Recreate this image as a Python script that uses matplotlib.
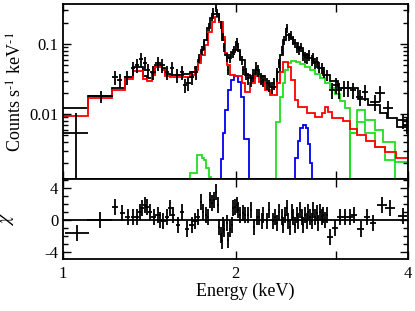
import matplotlib
matplotlib.use('Agg')
import matplotlib.pyplot as plt
import numpy as np
from matplotlib.ticker import FixedLocator, NullFormatter, NullLocator, LogLocator, MultipleLocator

plt.rcParams['font.family'] = ['Liberation Serif', 'DejaVu Serif']
plt.rcParams['mathtext.fontset'] = 'stix'

# ---------------- data ----------------
data_E = [1.053, 1.163, 1.232, 1.257, 1.293, 1.325, 1.346, 1.368, 1.390, 1.407,
          1.436, 1.465, 1.489, 1.519, 1.550, 1.582, 1.614, 1.633, 1.653, 1.679,
          1.706, 1.727, 1.748, 1.762, 1.783, 1.797, 1.819, 1.827, 1.849, 1.857,
          1.872, 1.887, 1.902, 1.910, 1.933, 1.941, 1.957, 1.980, 1.988, 2.004,
          2.012, 2.020, 2.037, 2.053, 2.061, 2.086, 2.103, 2.129, 2.146, 2.172,
          2.190, 2.216, 2.234, 2.270, 2.289, 2.316, 2.335, 2.364, 2.383, 2.412,
          2.432, 2.451, 2.461, 2.481, 2.501, 2.522, 2.542, 2.562, 2.583, 2.604,
          2.625, 2.646, 2.668, 2.689, 2.722, 2.733, 2.755, 2.777, 2.799, 2.833,
          2.856, 2.891, 2.949, 2.996, 3.032, 3.093, 3.143, 3.206, 3.297, 3.365,
          3.503, 3.573, 3.690, 3.920, 3.983]
data_dE = [0.053, 0.058,
           0.013, 0.013, 0.013, 0.013, 0.013, 0.013, 0.013, 0.013,
           0.015, 0.015, 0.015, 0.015, 0.015, 0.015, 0.015, 0.015,
           0.017, 0.017, 0.017,
           0.007, 0.007, 0.007, 0.007, 0.007, 0.007, 0.007, 0.007, 0.007, 0.007,
           0.007, 0.007, 0.007, 0.007, 0.007,
           0.008, 0.008, 0.008, 0.008, 0.008, 0.008, 0.008, 0.008, 0.008, 0.008,
           0.008, 0.008, 0.008, 0.008, 0.008, 0.008, 0.008, 0.008, 0.008,
           0.010, 0.010, 0.010, 0.010, 0.010, 0.010, 0.010, 0.010, 0.010, 0.010,
           0.010, 0.010, 0.010, 0.010, 0.010, 0.010, 0.010, 0.010, 0.010,
           0.011, 0.011, 0.011, 0.011, 0.011, 0.011, 0.011, 0.011,
           0.035, 0.035, 0.035, 0.035, 0.035, 0.035,
           0.045, 0.045,
           0.070, 0.070, 0.070, 0.070, 0.070]
data_flux = [0.0054, 0.0181, 0.0338, 0.0306, 0.0338, 0.0454, 0.0501, 0.061, 0.0535, 0.0425,
             0.0398, 0.0535, 0.0501, 0.0398, 0.0454, 0.0361, 0.0398, 0.0260, 0.0277, 0.0338,
             0.0398, 0.0631, 0.0821, 0.0968, 0.126, 0.175, 0.243, 0.286, 0.327, 0.277,
             0.243, 0.187, 0.126, 0.0906, 0.0652, 0.0425, 0.0631, 0.0743, 0.0821, 0.0968,
             0.107, 0.0906, 0.0697, 0.0591, 0.0425, 0.0385, 0.0327, 0.0306, 0.0361, 0.0454,
             0.0425, 0.0327, 0.0306, 0.0277, 0.0260, 0.0243, 0.0277, 0.0385, 0.0535, 0.0821,
             0.114, 0.148, 0.169, 0.126, 0.134, 0.114, 0.103, 0.0877, 0.0821, 0.0906,
             0.0697, 0.0652, 0.0631, 0.0697, 0.0591, 0.0631, 0.0535, 0.0553, 0.0469, 0.0454,
             0.0398, 0.0361, 0.0220, 0.0260, 0.0220, 0.0235, 0.0235, 0.0220, 0.0175, 0.0206,
             0.0148, 0.0200, 0.0122, 0.0082, 0.0070]
data_relerr = [0.9, 0.2,
               0.22, 0.22, 0.22, 0.22, 0.22, 0.22, 0.22, 0.22, 0.22, 0.22,
               0.22, 0.22, 0.22, 0.22, 0.22, 0.22, 0.22, 0.22, 0.22,
               0.14, 0.14, 0.14, 0.14, 0.14, 0.14, 0.14, 0.14, 0.14, 0.14, 0.14, 0.14,
               0.14, 0.14, 0.14, 0.14, 0.14, 0.14, 0.14, 0.14, 0.14, 0.14, 0.14, 0.14,
               0.20, 0.20, 0.20, 0.20, 0.20, 0.20, 0.20, 0.20, 0.20, 0.20, 0.20, 0.20, 0.20,
               0.14, 0.14, 0.14, 0.14, 0.14, 0.14, 0.14, 0.14, 0.14, 0.14, 0.14, 0.14,
               0.17, 0.17, 0.17, 0.17, 0.17, 0.17, 0.17, 0.17, 0.17, 0.17, 0.17, 0.17,
               0.25, 0.25, 0.25, 0.25, 0.25, 0.25, 0.25, 0.25, 0.25, 0.25, 0.25, 0.25, 0.25]

# total model (black step)
total_edges = [1.000, 1.106, 1.217, 1.283, 1.325, 1.379, 1.401, 1.430, 1.447, 1.489,
               1.507, 1.538, 1.620, 1.666, 1.699, 1.720, 1.741, 1.762, 1.783, 1.805,
               1.827, 1.872, 1.894, 1.918, 1.941, 1.965, 1.996, 2.037, 2.078, 2.120,
               2.163, 2.198, 2.252, 2.298, 2.364, 2.393, 2.422, 2.451, 2.490, 2.522,
               2.573, 2.625, 2.678, 2.733, 2.786, 2.845, 2.926, 3.020, 3.271, 3.406,
               3.573, 3.676, 3.826, 4.000]
total_vals = [0.0122, 0.0181, 0.0235, 0.0338, 0.0469, 0.0349, 0.0327, 0.0385, 0.0501, 0.0454,
              0.0373, 0.0361, 0.0373, 0.0398, 0.0469, 0.0591, 0.0821, 0.114, 0.169, 0.235,
              0.268, 0.206, 0.114, 0.0697, 0.0631, 0.0768, 0.0821, 0.0591, 0.0361, 0.0327,
              0.0425, 0.0349, 0.0277, 0.0243, 0.0398, 0.0697, 0.114, 0.134, 0.122, 0.103,
              0.0877, 0.0697, 0.0631, 0.0553, 0.0454, 0.0361, 0.0300, 0.0235, 0.0165, 0.0135,
              0.0105, 0.0088, 0.0066]

# red component
red_edges = [1.000, 1.106, 1.217, 1.283, 1.325, 1.379, 1.401, 1.430, 1.447, 1.489,
             1.507, 1.538, 1.666, 1.699, 1.720, 1.741, 1.769, 1.790, 1.819, 1.842,
             1.872, 1.902, 1.918, 1.933, 1.957, 1.996, 2.053, 2.078, 2.120, 2.163,
             2.198, 2.252, 2.298, 2.364, 2.393, 2.422, 2.471, 2.501, 2.542, 2.573,
             2.668, 2.755, 2.833, 2.868, 2.902, 2.949, 3.081, 3.168, 3.258, 3.378,
             3.503, 3.646, 3.810, 4.000]
red_vals = [0.0096, 0.0171, 0.0220, 0.0316, 0.0416, 0.0316, 0.0299, 0.0361, 0.0474, 0.0425,
            0.0349, 0.0338, 0.0361, 0.0425, 0.0535, 0.0697, 0.0968, 0.148, 0.206, 0.243,
            0.206, 0.126, 0.0743, 0.0501, 0.0361, 0.0349, 0.0277, 0.0208, 0.0275, 0.0349,
            0.029, 0.0220, 0.0187, 0.0277, 0.0398, 0.0553, 0.0469, 0.0306, 0.0159, 0.0126,
            0.0103, 0.0090, 0.0103, 0.0126, 0.0107, 0.0088, 0.0080, 0.0061, 0.0050, 0.0042,
            0.0034, 0.0029, 0.0024]

# blue lines
blue1_edges = [1.887, 1.902, 1.918, 1.941, 1.965, 1.988, 2.020, 2.045, 2.070, 2.112]
blue1_vals = [0.0023, 0.0054, 0.0114, 0.0220, 0.0306, 0.0349, 0.0287, 0.0175, 0.0045]
blue2_edges = [2.542, 2.573, 2.594, 2.625, 2.657, 2.678, 2.700, 2.722]
blue2_vals = [0.0024, 0.0042, 0.0063, 0.0070, 0.0063, 0.0038, 0.0020]

# green components
green1_edges = [1.666, 1.713, 1.748, 1.762, 1.776, 1.797, 1.812]
green1_vals = [0.00145, 0.0026, 0.0024, 0.0022, 0.0017, 0.0013]
green2_edges = [2.354, 2.393, 2.422, 2.442, 2.471, 2.501, 2.550, 2.594, 2.646, 2.700,
                2.755, 2.811, 2.868, 2.926, 2.983, 3.044, 3.105, 3.168]
green2_vals = [0.0077, 0.0175, 0.0277, 0.0425, 0.0535, 0.0575, 0.0553, 0.0518, 0.0469,
               0.0425, 0.0373, 0.0327, 0.0277, 0.0235, 0.0193, 0.0152, 0.0122]
green3_edges = [3.168, 3.258, 3.365, 3.503, 3.617, 3.795]
green3_vals = [0.0054, 0.0114, 0.0082, 0.0059, 0.0040]
green4_edges = [3.168, 3.258, 3.365, 3.503, 3.646, 3.795, 4.000]
green4_vals = [0.0054, 0.0077, 0.0055, 0.0034, 0.0022, 0.0021]

# residuals (chi)
res_E = [1.058, 1.160, 1.232, 1.268, 1.298, 1.325, 1.346, 1.363, 1.374, 1.390,
         1.401, 1.418, 1.441, 1.465, 1.477, 1.495, 1.519, 1.538, 1.556, 1.587,
         1.614, 1.646, 1.679, 1.699, 1.720, 1.741, 1.755, 1.776, 1.790, 1.805,
         1.819, 1.834, 1.849, 1.864, 1.872, 1.887, 1.894, 1.902, 1.910, 1.933,
         1.941, 1.957, 1.973, 1.980, 1.996, 2.012, 2.020, 2.037, 2.061, 2.078,
         2.103, 2.129, 2.154, 2.181, 2.198, 2.225, 2.234, 2.270, 2.289, 2.325,
         2.344, 2.364, 2.383, 2.412, 2.422, 2.442, 2.461, 2.471, 2.490, 2.511,
         2.522, 2.542, 2.562, 2.573, 2.594, 2.615, 2.625, 2.646, 2.668, 2.678,
         2.700, 2.722, 2.733, 2.755, 2.777, 2.786, 2.811, 2.833, 2.845, 2.868,
         2.891, 2.926, 2.985, 3.044, 3.105, 3.168, 3.219, 3.310, 3.392, 3.475,
         3.600, 3.720, 3.920]
res_chi = [-1.6, 0.0, 1.6, 0.9, 0.3, 0.3, 0.4, 1.0, 1.5, 1.9,
           1.6, 1.0, 0.3, 0.6, 0.0, -0.2, 0.3, 1.5, 0.6, -0.6,
           1.0, -1.2, -0.6, -0.2, 0.3, 2.2, 1.0, 0.6, 0.4, 2.5,
           2.1, 2.5, 3.5, 1.9, -0.9, -1.9, -2.7, -0.6, -1.2, -0.4,
           -2.5, -1.2, -0.6, 1.5, 1.6, 1.9, 1.2, 0.6, 0.9, 0.6,
           0.6, 1.2, -0.9, 0.3, 0.3, -0.2, 0.6, -0.2, 1.2, -0.2,
           0.4, -0.4, 1.0, 0.3, -0.6, 0.6, 1.5, -0.2, -0.9, 1.0,
           0.3, -0.6, 0.6, -0.2, 1.2, 0.3, -0.6, 0.6, -0.2, 1.0,
           0.4, -0.2, 1.2, 0.4, 0.9, -0.4, 1.0, 0.3, 0.6, 0.0,
           0.6, -2.1, -1.0, 0.3, 0.4, 0.4, 0.6, -1.1, 0.4, -0.4,
           1.8, 1.5, 0.5]
res_dE = [0.050, 0.058,
          0.013, 0.013, 0.013, 0.013, 0.013, 0.013, 0.013, 0.013, 0.013, 0.013,
          0.015, 0.015, 0.015, 0.015, 0.015, 0.015, 0.015, 0.015, 0.015, 0.015,
          0.017, 0.017, 0.017,
          0.007, 0.007, 0.007, 0.007, 0.007, 0.007, 0.007, 0.007, 0.007, 0.007,
          0.007, 0.007, 0.007, 0.007, 0.007, 0.007, 0.007, 0.007, 0.007, 0.007,
          0.009, 0.009, 0.009, 0.009, 0.009, 0.009, 0.009, 0.009, 0.009, 0.009,
          0.009, 0.009, 0.009, 0.009, 0.009, 0.009, 0.009, 0.009, 0.009, 0.009,
          0.009, 0.009, 0.009, 0.009, 0.009,
          0.011, 0.011, 0.011, 0.011, 0.011, 0.011, 0.011, 0.011, 0.011, 0.011,
          0.011, 0.011, 0.011, 0.011, 0.011, 0.011, 0.011, 0.011, 0.011, 0.011, 0.011,
          0.035, 0.035, 0.035, 0.035, 0.035, 0.035,
          0.045, 0.045, 0.045,
          0.070, 0.070, 0.070]
res_err = 1.0

x_ticks = [1, 2, 3, 4]
x_ticklabels = ['1', '2', '', '4']
y_ticks = [0.01, 0.1]
y_ticklabels = ['0.01', '0.1']
r_ticks = [-4, 0, 4]
r_ticklabels = ['-4', '0', '4']

# ---------------- figure ----------------
W, H = 415, 311
fig = plt.figure(figsize=(W / 100, H / 100), dpi=100)
ax1 = fig.add_axes([63 / W, 1 - 179 / H, 345 / W, 175 / H])
ax2 = fig.add_axes([63 / W, 1 - 259 / H, 345 / W, 80 / H], sharex=ax1)

RED = '#ff0000'
GREEN = '#22dd22'
BLUE = '#0000ee'
LW = 1.3
BASE = 1e-5

ax1.set_xscale('log')
ax1.set_yscale('log')

ax1.stairs(green1_vals, green1_edges, baseline=BASE, color=GREEN, lw=LW)
ax1.stairs(green2_vals, green2_edges, baseline=BASE, color=GREEN, lw=LW)
ax1.stairs(green3_vals, green3_edges, baseline=BASE, color=GREEN, lw=LW)
ax1.stairs(green4_vals, green4_edges, baseline=BASE, color=GREEN, lw=LW)
ax1.stairs(blue1_vals, blue1_edges, baseline=BASE, color=BLUE, lw=LW)
ax1.stairs(blue2_vals, blue2_edges, baseline=BASE, color=BLUE, lw=LW)
ax1.stairs(total_vals, total_edges, baseline=None, color='k', lw=LW)
ax1.stairs(red_vals, red_edges, baseline=None, color=RED, lw=LW)

flux = np.array(data_flux)
ax1.errorbar(data_E, flux, xerr=data_dE, yerr=np.array(data_relerr) * flux,
             fmt='none', ecolor='k', elinewidth=LW, capsize=0)

ax1.set_xlim(1, 4)
ax1.set_ylim(0.0012, 0.37)

ax2.axhline(0, color='k', lw=1.3)
ax2.errorbar(res_E, res_chi, xerr=res_dE, yerr=res_err,
             fmt='none', ecolor='k', elinewidth=LW, capsize=0)
ax2.set_ylim(-4.9, 5.1)

# ticks
for ax in (ax1, ax2):
    ax.tick_params(which='both', direction='in', top=True, right=True,
                   labelsize=12, width=1.0)
    ax.tick_params(which='major', length=6)
    ax.tick_params(which='minor', length=3.5)
    for s in ax.spines.values():
        s.set_linewidth(1.3)

ax2.xaxis.set_major_locator(FixedLocator(x_ticks))
ax2.xaxis.set_minor_locator(NullLocator())
ax2.set_xticks(x_ticks, x_ticklabels)
ax2.xaxis.set_minor_formatter(NullFormatter())
ax1.tick_params(axis='x', labelbottom=False)
ax2.tick_params(axis='x', pad=5)

ax1.set_yticks(y_ticks, y_ticklabels)
ax1.yaxis.set_minor_locator(LogLocator(base=10, subs=np.arange(2, 10)))
ax1.yaxis.set_minor_formatter(NullFormatter())
ax1.tick_params(axis='y', pad=3.5)

ax2.set_yticks(r_ticks, r_ticklabels)
ax2.yaxis.set_minor_locator(MultipleLocator(1))
ax2.tick_params(axis='y', pad=3.5)

ax1.set_ylabel(r'Counts s$^{\text{-1}}$ keV$^{\text{-1}}$', fontsize=13)
ax1.yaxis.set_label_coords(-0.108, 0.5)
ax2.set_ylabel(r'$\chi$', fontsize=14)
ax2.yaxis.set_label_coords(-0.136, 0.5)
ax2.set_xlabel('Energy (keV)', fontsize=13)
ax2.xaxis.set_label_coords(0.528, -0.29)

fig.savefig('out.png', dpi=100)
